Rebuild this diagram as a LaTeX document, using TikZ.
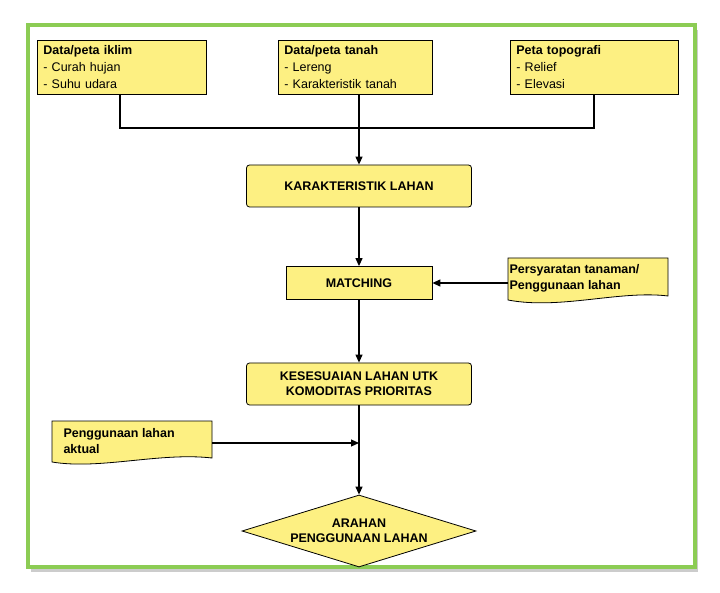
\documentclass[tikz,border=0pt]{standalone}
\usepackage{fontspec}
\setmainfont{Liberation Sans}
\usetikzlibrary{shapes.geometric,shadows,arrows.meta}
\definecolor{boxyellow}{RGB}{253,240,130}
\definecolor{framegreen}{RGB}{140,204,84}
\begin{document}
\begin{tikzpicture}[x=1pt,y=-1pt,
    databox/.style={draw, thick, fill=boxyellow, minimum height=54pt, text width=#1, align=left, inner sep=3pt, inner xsep=6pt, anchor=north west, font=\fontsize{12.5}{17}\selectfont},
    process/.style={draw, thick, fill=boxyellow, rounded corners=3pt, minimum width=225pt, minimum height=42pt, align=center, font=\bfseries\fontsize{12.5}{15}\selectfont},
    decision/.style={draw, thick, diamond, fill=boxyellow, aspect=3.3, inner sep=0pt, minimum width=234pt, minimum height=72pt, align=center, font=\bfseries\fontsize{12.5}{15}\selectfont},
    flow/.style={very thick, -{Triangle[length=8pt,width=7pt]}},
    docu/.style={draw, thick, fill=boxyellow},
    doctext/.style={font=\bfseries\fontsize{12.5}{16}\selectfont, align=left, anchor=west},
]
    \useasboundingbox (0,0) rectangle (720,593);
    % Frame
    \draw[line width=4pt, framegreen, fill=white, drop shadow={opacity=0.4, shadow xshift=3pt, shadow yshift=-5pt}] (28,25) rectangle (695,567);

    % Input data
    \node[databox=157pt] (iklim) at (37,40) {\textbf{Data/peta iklim}\\- Curah hujan\\- Suhu udara};
    \node[databox=142pt] (tanah) at (278,40) {\textbf{Data/peta tanah}\\- Lereng\\- Karakteristik tanah};
    \node[databox=156pt] (topo) at (510,40) {\textbf{Peta topografi}\\- Relief\\- Elevasi};

    % Process steps
    \node[process] (karakter) at (359,186) {KARAKTERISTIK LAHAN};
    \node[process, minimum width=146pt, minimum height=33pt, rounded corners=0pt] (matching) at (359,283) {MATCHING};
    \node[process] (sesuai) at (359,384) {KESESUAIAN LAHAN UTK\\KOMODITAS PRIORITAS};
    \node[decision] (arahan) at (359,531) {ARAHAN\\PENGGUNAAN LAHAN};

    % Documents
    \draw[docu] (508,258) -- (668,258) -- (668,296) .. controls (620,290) and (560,310) .. (508,300) -- cycle;
    \node[doctext] (syarat) at (506,278) {Persyaratan tanaman/\\Penggunaan lahan};
    \coordinate (syaratW) at (508,283);
    \draw[docu] (52,421) -- (212,421) -- (212,458) .. controls (160,452) and (100,470) .. (52,462) -- cycle;
    \node[doctext] (aktual) at (60,441) {Penggunaan lahan\\aktual};
    \coordinate (aktualE) at (212,443);

    % Connectors
    \coordinate (join) at (359,128);
    \coordinate (merge) at (359,443);
    \draw[very thick] (120,94) |- (join) -| (594,94);
    \draw[flow] (tanah.south -| join) -- (karakter);
    \draw[flow] (karakter) -- (matching);
    \draw[flow] (syaratW) -- (matching.east);
    \draw[flow] (matching) -- (sesuai);
    \draw[flow] (aktualE) -- (merge);
    \draw[flow] (sesuai) -- (arahan.north);
\end{tikzpicture}
\end{document}
